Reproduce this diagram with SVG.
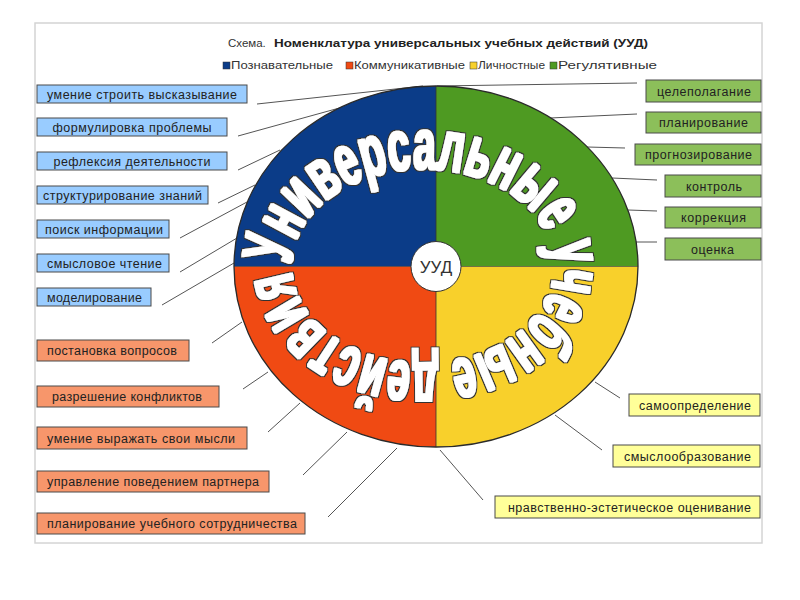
<svg xmlns="http://www.w3.org/2000/svg" width="800" height="600" viewBox="0 0 800 600">
<style>
.lbl{font-family:"Liberation Sans",Arial,sans-serif;font-size:12.5px;fill:#222;text-anchor:middle}
.box{stroke:#4a4a4a;stroke-width:1}
.b{fill:#99ccff}.o{fill:#f7966b}.g{fill:#8cbf5a}.y{fill:#ffff99}
.con line{stroke:#555;stroke-width:1}
.leg{font-family:"Liberation Sans",Arial,sans-serif;font-size:10px;fill:#333}
.arc{font-family:"Liberation Sans Narrow","Liberation Sans",Arial,sans-serif;font-weight:bold;font-size:72px;fill:#fff}
</style>
<defs>
<path id="ring" d="M 292 266 A 131 97 0 1 1 554 266 A 131 97 0 1 1 292 266"/>
<filter id="fat" x="-10%" y="-10%" width="120%" height="120%">
<feMorphology in="SourceAlpha" operator="dilate" radius="2.3" result="d"/>
<feFlood flood-color="#333"/>
<feComposite in2="d" operator="in" result="outline"/>
<feMorphology in="SourceGraphic" operator="dilate" radius="0.9" result="thick"/>
<feMerge><feMergeNode in="outline"/><feMergeNode in="thick"/></feMerge>
</filter>
</defs>
<rect width="800" height="600" fill="#fff"/>
<rect x="35" y="23" width="727" height="520" fill="#fff" stroke="#d4d4d4" stroke-width="1.5"/>
<g id="title">
<text x="228" y="47" font-family="Liberation Sans,Arial,sans-serif" font-size="11.5" fill="#333">Схема.</text>
<text x="274" y="47" font-family="Liberation Sans,Arial,sans-serif" font-size="11.5" font-weight="bold" fill="#222" textLength="374" lengthAdjust="spacingAndGlyphs">Номенклатура универсальных учебных действий (УУД)</text>
</g>
<g id="legend">
<rect x="223" y="62" width="7" height="7" fill="#0b3c88" stroke="#333" stroke-width="0.5"/>
<text class="leg" x="231" y="69" textLength="102" lengthAdjust="spacingAndGlyphs">Познавательные</text>
<rect x="346" y="62" width="7" height="7" fill="#f04a13" stroke="#333" stroke-width="0.5"/>
<text class="leg" x="354" y="69" textLength="111" lengthAdjust="spacingAndGlyphs">Коммуникативные</text>
<rect x="470" y="62" width="7" height="7" fill="#f8d02b" stroke="#333" stroke-width="0.5"/>
<text class="leg" x="478" y="69" textLength="67" lengthAdjust="spacingAndGlyphs">Личностные</text>
<rect x="550" y="62" width="7" height="7" fill="#4e9a22" stroke="#333" stroke-width="0.5"/>
<text class="leg" x="558" y="69" textLength="99" lengthAdjust="spacingAndGlyphs">Регулятивные</text>
</g>
<g id="connectors" class="con">
<line x1="257" y1="104" x2="423" y2="86"/>
<line x1="238" y1="136" x2="343" y2="107"/>
<line x1="238" y1="170" x2="280" y2="150"/>
<line x1="218" y1="203" x2="255" y2="185"/>
<line x1="180" y1="238" x2="247" y2="202"/>
<line x1="180" y1="272" x2="237" y2="238"/>
<line x1="162" y1="305" x2="234" y2="263"/>
<line x1="212" y1="343" x2="242" y2="322"/>
<line x1="243" y1="389" x2="268" y2="372"/>
<line x1="268" y1="432" x2="300" y2="403"/>
<line x1="303" y1="475" x2="347" y2="432"/>
<line x1="328" y1="517" x2="397" y2="448"/>
<line x1="437" y1="86" x2="637" y2="83"/>
<line x1="550" y1="118" x2="637" y2="114"/>
<line x1="587" y1="147" x2="625" y2="148"/>
<line x1="612" y1="178" x2="657" y2="180"/>
<line x1="628" y1="210" x2="657" y2="211"/>
<line x1="636" y1="242" x2="657" y2="242"/>
<line x1="595" y1="382" x2="620" y2="398"/>
<line x1="555" y1="415" x2="602" y2="450"/>
<line x1="440" y1="450" x2="483" y2="500"/>
</g>
<g id="wheel">
<path d="M436 266.5 L234 266.5 A202 180.5 0 0 1 436 86 Z" fill="#0b3c88"/>
<path d="M436 266.5 L436 86 A202 180.5 0 0 1 638 266.5 Z" fill="#4e9a22"/>
<path d="M436 266.5 L638 266.5 A202 180.5 0 0 1 436 447 Z" fill="#f8d02b"/>
<path d="M436 266.5 L436 447 A202 180.5 0 0 1 234 266.5 Z" fill="#f04a13"/>
<line x1="234" y1="266.5" x2="638" y2="266.5" stroke="#333" stroke-width="0.6"/>
<line x1="436" y1="86" x2="436" y2="447" stroke="#333" stroke-width="0.8"/>
<ellipse cx="436" cy="266.5" rx="202" ry="180.5" fill="none" stroke="#2a2a2a" stroke-width="1.3"/>
<text class="arc" filter="url(#fat)"><textPath href="#ring" startOffset="1" textLength="714" lengthAdjust="spacingAndGlyphs">Универсальные учебные действия</textPath></text>
</g>
<g id="center">
<circle cx="436" cy="266.5" r="25" fill="#fff" stroke="#333" stroke-width="1"/>
<text x="436" y="272.5" text-anchor="middle" font-family="Liberation Sans,Arial,sans-serif" font-size="17" fill="#333">УУД</text>
</g>
<g id="n-b1"><rect class="box b" x="37" y="85" width="210" height="18"/><text class="lbl" x="142" y="98.5" textLength="190">умение строить высказывание</text></g>
<g id="n-b2"><rect class="box b" x="37" y="118" width="190" height="18"/><text class="lbl" x="132" y="131.5" textLength="159">формулировка проблемы</text></g>
<g id="n-b3"><rect class="box b" x="37" y="152" width="190" height="18"/><text class="lbl" x="132" y="165.5" textLength="157">рефлексия деятельности</text></g>
<g id="n-b4"><rect class="box b" x="37" y="186" width="171" height="18"/><text class="lbl" x="122.5" y="199.5" textLength="159">структурирование знаний</text></g>
<g id="n-b5"><rect class="box b" x="37" y="220" width="132" height="18"/><text class="lbl" x="104" y="233.5" textLength="118">поиск информации</text></g>
<g id="n-b6"><rect class="box b" x="37" y="254" width="132" height="18"/><text class="lbl" x="104.5" y="267.5" textLength="115">смысловое чтение</text></g>
<g id="n-b7"><rect class="box b" x="37" y="288" width="114" height="18"/><text class="lbl" x="94.5" y="301.5" textLength="95">моделирование</text></g>
<g id="n-o1"><rect class="box o" x="37" y="340" width="152" height="21"/><text class="lbl" x="112" y="355" textLength="130">постановка вопросов</text></g>
<g id="n-o2"><rect class="box o" x="37" y="386" width="182" height="21"/><text class="lbl" x="127" y="401" textLength="150">разрешение конфликтов</text></g>
<g id="n-o3"><rect class="box o" x="37" y="427" width="210" height="22"/><text class="lbl" x="141" y="442.5" textLength="188">умение выражать свои мысли</text></g>
<g id="n-o4"><rect class="box o" x="37" y="471" width="232" height="21"/><text class="lbl" x="153" y="486" textLength="212">управление поведением партнера</text></g>
<g id="n-o5"><rect class="box o" x="37" y="513" width="268" height="21"/><text class="lbl" x="172" y="528" textLength="250">планирование учебного сотрудничества</text></g>
<g id="n-g1"><rect class="box g" x="646" y="80" width="115" height="22"/><text class="lbl" x="704" y="95.5" textLength="94">целеполагание</text></g>
<g id="n-g2"><rect class="box g" x="646" y="112" width="115" height="21"/><text class="lbl" x="703.5" y="127" textLength="89">планирование</text></g>
<g id="n-g3"><rect class="box g" x="635" y="144" width="126" height="21"/><text class="lbl" x="698.5" y="159" textLength="107">прогнозирование</text></g>
<g id="n-g4"><rect class="box g" x="665" y="175" width="96" height="22"/><text class="lbl" x="714" y="190.5" textLength="56">контроль</text></g>
<g id="n-g5"><rect class="box g" x="665" y="207" width="96" height="21"/><text class="lbl" x="713.5" y="222" textLength="65">коррекция</text></g>
<g id="n-g6"><rect class="box g" x="665" y="238" width="96" height="22"/><text class="lbl" x="712.5" y="253.5" textLength="43">оценка</text></g>
<g id="n-y1"><rect class="box y" x="629" y="394" width="131" height="22"/><text class="lbl" x="695" y="409.5" textLength="112">самоопределение</text></g>
<g id="n-y2"><rect class="box y" x="613" y="445" width="147" height="22"/><text class="lbl" x="687.5" y="460.5" textLength="127">смыслообразование</text></g>
<g id="n-y3"><rect class="box y" x="495" y="496" width="265" height="22"/><text class="lbl" x="629.5" y="511.5" textLength="243">нравственно-эстетическое оценивание</text></g>
</svg>
